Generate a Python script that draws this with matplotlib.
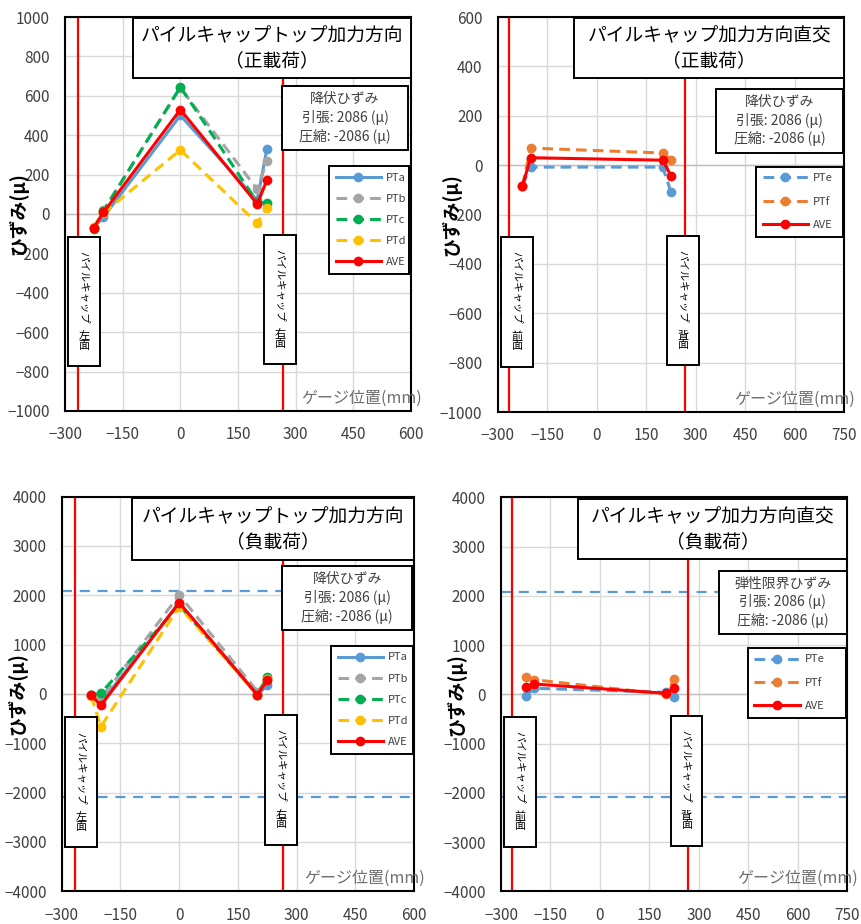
import matplotlib
matplotlib.use('Agg')
import matplotlib.pyplot as plt
from matplotlib.patches import Rectangle

plt.rcParams['font.family'] = ['Noto Sans CJK JP', 'DejaVu Sans']

# gauge positions (mm)
x_top = [-225, -200, 0, 200, 225]
x_side = [-225, -200, 200, 225]

# pile cap faces (mm)
cap_edges = [-266, 266]
yield_strain = 2086

# top, positive loading
pos_PTa = [-70, -15, 500, 70, 330]
pos_PTb = [-70, 19, 640, 125, 269]
pos_PTc = [-76, 15, 645, 60, 56]
pos_PTd = [-68, 5, 325, -46, 32]
pos_AVE = [-69, 8, 530, 51, 171]

# orthogonal, positive loading
pos_PTe = [-84, -8, -8, -109]
pos_PTf = [-84, 69, 49, 22]
pos_AVE2 = [-84, 30, 20, -43]

# top, negative loading
neg_PTa = [-30, -180, 1850, -20, 176]
neg_PTb = [-30, -100, 2007, 50, 300]
neg_PTc = [-20, 14, 1800, -20, 351]
neg_PTd = [-40, -662, 1770, -20, 300]
neg_AVE = [-27, -230, 1851, -20, 284]

# orthogonal, negative loading
neg_PTe = [-35, 122, 40, -61]
neg_PTf = [345, 296, 0, 305]
neg_AVE2 = [155, 209, 20, 125]

BLUE = '#5B9BD5'
GRAY = '#A5A5A5'
GREEN = '#00B050'
YELLOW = '#FFC000'
ORANGE = '#ED7D31'
RED = '#FF0000'
TXT = '#404040'


def box(ax, x0, y0, x1, y1):
    ax.add_patch(Rectangle((x0, y0), x1 - x0, y1 - y0, transform=ax.transAxes,
                           facecolor='white', edgecolor='black', lw=1.4,
                           zorder=5, clip_on=False))


def side_box(ax, x0, y0, x1, y1, kana, kanji):
    box(ax, x0, y0, x1, y1)
    h = y1 - y0
    xc = (x0 + x1) / 2
    # half-width kana turn sideways, kanji stay upright
    ax.text(xc, y1 - 0.11 * h, kana, rotation=-90, ha='center', va='top',
            fontsize=7.5, transform=ax.transAxes, zorder=6)
    ax.text(xc, y0 + 0.12 * h, '\n'.join(kanji), ha='center', va='bottom',
            fontsize=8, linespacing=0.9, transform=ax.transAxes, zorder=6)


def setup(ax, xmax, ylim, ystep, title, yield_title, tb, yb, lb, left, right, faces, ylab_x):
    ax.set_xlim(-300, xmax)
    ax.set_ylim(-ylim, ylim)
    ax.set_xticks(range(-300, xmax + 1, 150))
    ax.set_yticks(range(-ylim, ylim + 1, ystep))
    ax.grid(True, color='#D9D9D9', lw=1.0, zorder=0)
    ax.set_axisbelow(True)
    ax.axhline(0, color='#BFBFBF', lw=1.0, zorder=1)
    ax.tick_params(length=0, pad=11, labelsize=11, labelcolor=TXT)
    for s in ax.spines.values():
        s.set_linewidth(1.5)
        s.set_color('black')
    for e in cap_edges:
        ax.axvline(e, color=RED, lw=1.6, zorder=2)

    ax.set_ylabel('ひずみ(μ)', fontsize=13.5, fontweight='bold', va='center')
    ax.yaxis.set_label_coords(ylab_x, 0.5)
    ax.text(1.03, 0.033, 'ゲージ位置(mm)', ha='right', va='center', fontsize=11.5,
            color='#6E6E6E', transform=ax.transAxes, zorder=6)

    box(ax, *tb)
    ax.text((tb[0] + tb[2]) / 2, (tb[1] + tb[3]) / 2, title, ha='center', va='center',
            fontsize=13.5, linespacing=1.25, transform=ax.transAxes, zorder=6)
    box(ax, *yb)
    ax.text((yb[0] + yb[2]) / 2, (yb[1] + yb[3]) / 2,
            yield_title + '\n引張: %d (μ)\n圧縮: -%d (μ)' % (yield_strain, yield_strain),
            ha='center', va='center', fontsize=10, linespacing=1.3, color=TXT,
            transform=ax.transAxes, zorder=6)
    side_box(ax, *left, 'パイルキャップ', faces[0])
    side_box(ax, *right, 'パイルキャップ', faces[1])

    leg = ax.legend(loc='upper left', bbox_to_anchor=(lb[0], lb[3], lb[2] - lb[0], 0),
                    mode='expand', fontsize=8, handlelength=4.1, handletextpad=0.45,
                    labelspacing=lb[4], borderpad=0.6, fancybox=False, framealpha=1,
                    edgecolor='black', borderaxespad=0)
    leg.get_frame().set_linewidth(1.4)
    leg.set_zorder(7)
    for t in leg.get_texts():
        t.set_color(TXT)


fig = plt.figure(figsize=(8.61, 9.24), dpi=100)
ax1 = fig.add_axes([0.0755, 0.5552, 0.4019, 0.4264])
ax2 = fig.add_axes([0.5780, 0.5541, 0.4026, 0.4275])
ax3 = fig.add_axes([0.0717, 0.0354, 0.4092, 0.4271])
ax4 = fig.add_axes([0.5819, 0.0354, 0.4022, 0.4264])

lw = 2.2
ms = 6
dash = (3.5, 2)

# top-left
ax1.plot(x_top, pos_PTa, color=BLUE, lw=lw, marker='o', ms=ms, label='PTa', zorder=3)
ax1.plot(x_top, pos_PTb, color=GRAY, lw=lw, marker='o', ms=ms, dashes=dash, label='PTb', zorder=3)
ax1.plot(x_top, pos_PTc, color=GREEN, lw=lw, marker='o', ms=ms, dashes=dash, label='PTc', zorder=3)
ax1.plot(x_top, pos_PTd, color=YELLOW, lw=lw, marker='o', ms=ms, dashes=dash, label='PTd', zorder=3)
ax1.plot(x_top, pos_AVE, color=RED, lw=lw, marker='o', ms=ms, label='AVE', zorder=4)
setup(ax1, 600, 1000, 200, 'パイルキャップトップ加力方向\n（正載荷）', '降伏ひずみ',
      (0.197, 0.845, 1.0, 0.997), (0.627, 0.662, 0.991, 0.825),
      (0.763, 0.353, 0.994, 0.622, 1.0),
      (0.009, 0.114, 0.101, 0.442), (0.575, 0.119, 0.668, 0.447), ('左面', '右面'), -0.136)

# top-right
ax2.plot(x_side, pos_PTe, color=BLUE, lw=lw, marker='o', ms=ms, dashes=dash, label='PTe', zorder=3)
ax2.plot(x_side, pos_PTf, color=ORANGE, lw=lw, marker='o', ms=ms, dashes=dash, label='PTf', zorder=3)
ax2.plot(x_side, pos_AVE2, color=RED, lw=lw, marker='o', ms=ms, label='AVE', zorder=4)
setup(ax2, 750, 1000, 200, 'パイルキャップ加力方向直交\n（正載荷）', '降伏ひずみ',
      (0.221, 0.845, 1.0, 0.997), (0.629, 0.656, 0.997, 0.818),
      (0.745, 0.446, 0.995, 0.621, 1.2),
      (0.0095, 0.115, 0.101, 0.444), (0.488, 0.118, 0.582, 0.446), ('前面', '背面'), -0.133)
ax2.set_ylim(-1000, 600)
ax2.set_yticks(range(-1000, 601, 200))

# bottom-left
for ax in (ax3, ax4):
    for v in (yield_strain, -yield_strain):
        ax.axhline(v, color=BLUE, lw=1.6, dashes=(4.5, 3.5), zorder=2)

ax3.plot(x_top, neg_PTa, color=BLUE, lw=lw, marker='o', ms=ms, label='PTa', zorder=3)
ax3.plot(x_top, neg_PTb, color=GRAY, lw=lw, marker='o', ms=ms, dashes=dash, label='PTb', zorder=3)
ax3.plot(x_top, neg_PTc, color=GREEN, lw=lw, marker='o', ms=ms, dashes=dash, label='PTc', zorder=3)
ax3.plot(x_top, neg_PTd, color=YELLOW, lw=lw, marker='o', ms=ms, dashes=dash, label='PTd', zorder=3)
ax3.plot(x_top, neg_AVE, color=RED, lw=lw, marker='o', ms=ms, label='AVE', zorder=4)
setup(ax3, 600, 4000, 1000, 'パイルキャップトップ加力方向\n（負載荷）', '降伏ひずみ',
      (0.199, 0.839, 0.999, 0.996), (0.626, 0.662, 0.995, 0.824),
      (0.764, 0.354, 0.998, 0.622, 1.0),
      (0.0094, 0.112, 0.101, 0.441), (0.577, 0.117, 0.669, 0.447), ('左面', '右面'), -0.127)

# bottom-right
ax4.plot(x_side, neg_PTe, color=BLUE, lw=lw, marker='o', ms=ms, dashes=dash, label='PTe', zorder=3)
ax4.plot(x_side, neg_PTf, color=ORANGE, lw=lw, marker='o', ms=ms, dashes=dash, label='PTf', zorder=3)
ax4.plot(x_side, neg_AVE2, color=RED, lw=lw, marker='o', ms=ms, label='AVE', zorder=4)
setup(ax4, 750, 4000, 1000, 'パイルキャップ加力方向直交\n（負載荷）', '弾性限界ひずみ',
      (0.221, 0.843, 1.0, 0.995), (0.63, 0.653, 0.998, 0.814),
      (0.712, 0.446, 0.997, 0.618, 1.2),
      (0.0087, 0.113, 0.101, 0.442), (0.49, 0.115, 0.581, 0.445), ('前面', '背面'), -0.128)

fig.savefig('out.png', dpi=100)
